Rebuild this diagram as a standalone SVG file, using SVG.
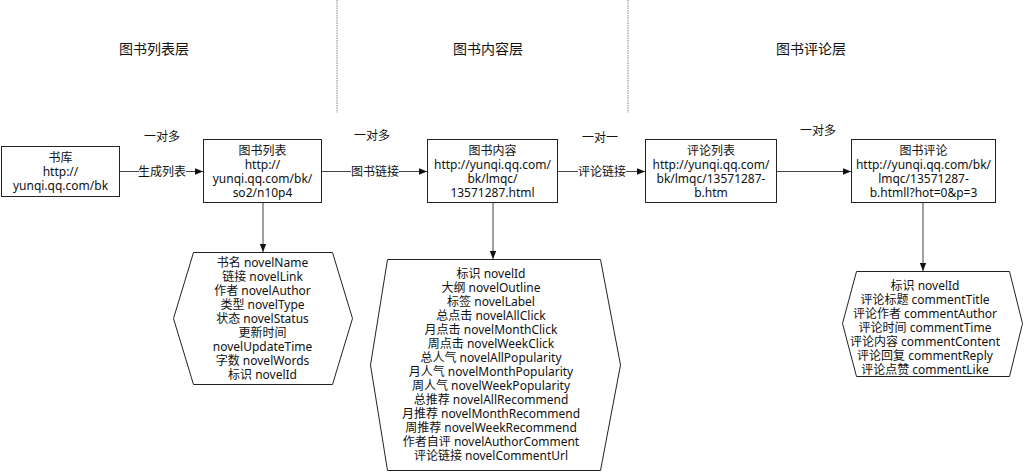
<svg xmlns="http://www.w3.org/2000/svg" width="1024" height="472" viewBox="0 0 1024 472">
<style>
text{font-family:"Noto Sans","Noto Sans CJK SC",sans-serif;font-size:12px;fill:#111;text-anchor:middle;dominant-baseline:central}
.title{font-size:14px}
.box{fill:#fff;stroke:#222;stroke-width:1}
.conn{stroke:#444;stroke-width:1;fill:none}
.lbl{fill:#fff}
.sep{stroke:#888;stroke-width:1;stroke-dasharray:1.5,1}
</style>
<defs>
<marker id="ah" viewBox="0 0 8 8" refX="8" refY="4" markerWidth="8" markerHeight="8" markerUnits="userSpaceOnUse" orient="auto">
<path d="M0,0.8 L8,4 L0,7.2 Z" fill="#111"/>
</marker>
</defs>
<g id="layers">
<line class="sep" x1="337" y1="0" x2="337" y2="113"/>
<line class="sep" x1="628" y1="0" x2="628" y2="113"/>
<text class="title" x="154" y="48">图书列表层</text>
<text class="title" x="488" y="48">图书内容层</text>
<text class="title" x="811" y="48">图书评论层</text>
</g>
<g id="connectors">
<line class="conn" x1="120" y1="171.5" x2="203" y2="171.5" marker-end="url(#ah)"/>
<line class="conn" x1="322" y1="171.5" x2="427" y2="171.5" marker-end="url(#ah)"/>
<line class="conn" x1="558" y1="171.5" x2="645" y2="171.5" marker-end="url(#ah)"/>
<line class="conn" x1="777" y1="171.5" x2="851" y2="171.5" marker-end="url(#ah)"/>
<line class="conn" x1="263" y1="202" x2="263" y2="252" marker-end="url(#ah)"/>
<line class="conn" x1="493" y1="202" x2="493" y2="259" marker-end="url(#ah)"/>
<line class="conn" x1="923" y1="202" x2="923" y2="271" marker-end="url(#ah)"/>
<rect class="lbl" x="139" y="163" width="47" height="17"/>
<text x="162" y="171">生成列表</text>
<text x="162" y="136">一对多</text>
<rect class="lbl" x="351" y="163" width="48" height="17"/>
<text x="375" y="171">图书链接</text>
<text x="372" y="135">一对多</text>
<rect class="lbl" x="578" y="163" width="48" height="17"/>
<text x="602" y="171">评论链接</text>
<text x="600" y="137">一对一</text>
<text x="818" y="130">一对多</text>
</g>
<g id="node-shuku">
<rect class="box" x="1.5" y="146.5" width="118" height="50"/>
<text x="60.5" y="157"><tspan x="60.5">书库</tspan><tspan x="60.5" dy="14">http://</tspan><tspan x="60.5" dy="14">yunqi.qq.com/bk</tspan></text>
</g>
<g id="node-list">
<rect class="box" x="203.5" y="139.5" width="118" height="63"/>
<text x="262.5" y="150"><tspan x="262.5">图书列表</tspan><tspan x="262.5" dy="14">http://</tspan><tspan x="262.5" dy="14">yunqi.qq.com/bk/</tspan><tspan x="262.5" dy="14">so2/n10p4</tspan></text>
</g>
<g id="node-content">
<rect class="box" x="427.5" y="139.5" width="130" height="63"/>
<text x="492.5" y="150"><tspan x="492.5">图书内容</tspan><tspan x="492.5" dy="14">http://yunqi.qq.com/</tspan><tspan x="492.5" dy="14">bk/lmqc/</tspan><tspan x="492.5" dy="14">13571287.html</tspan></text>
</g>
<g id="node-commentlist">
<rect class="box" x="645.5" y="139.5" width="131" height="63"/>
<text x="711" y="150"><tspan x="711">评论列表</tspan><tspan x="711" dy="14">http://yunqi.qq.com/</tspan><tspan x="711" dy="14">bk/lmqc/13571287-</tspan><tspan x="711" dy="14">b.htm</tspan></text>
</g>
<g id="node-comment">
<rect class="box" x="851.5" y="139.5" width="144" height="63"/>
<text x="923.5" y="150"><tspan x="923.5">图书评论</tspan><tspan x="923.5" dy="14">http://yunqi.qq.com/bk/</tspan><tspan x="923.5" dy="14">lmqc/13571287-</tspan><tspan x="923.5" dy="14">b.htmll?hot=0&amp;p=3</tspan></text>
</g>
<g id="node-list-fields">
<polygon class="box" points="193.5,252.5 332.5,252.5 352.5,318.5 332.5,384.5 193.5,384.5 173.5,318.5"/>
<text x="262.5" y="262"><tspan x="262.5">书名 novelName</tspan><tspan x="262.5" dy="14">链接 novelLink</tspan><tspan x="262.5" dy="14">作者 novelAuthor</tspan><tspan x="262.5" dy="14">类型 novelType</tspan><tspan x="262.5" dy="14">状态 novelStatus</tspan><tspan x="262.5" dy="14">更新时间</tspan><tspan x="262.5" dy="14">novelUpdateTime</tspan><tspan x="262.5" dy="14">字数 novelWords</tspan><tspan x="262.5" dy="14">标识 novelId</tspan></text>
</g>
<g id="node-content-fields">
<polygon class="box" points="387.5,259.5 600.5,259.5 620.5,365 600.5,470.5 387.5,470.5 370.5,365"/>
<text x="491" y="273"><tspan x="491">标识 novelId</tspan><tspan x="491" dy="14">大纲 novelOutline</tspan><tspan x="491" dy="14">标签 novelLabel</tspan><tspan x="491" dy="14">总点击 novelAllClick</tspan><tspan x="491" dy="14">月点击 novelMonthClick</tspan><tspan x="491" dy="14">周点击 novelWeekClick</tspan><tspan x="491" dy="14">总人气 novelAllPopularity</tspan><tspan x="491" dy="14">月人气 novelMonthPopularity</tspan><tspan x="491" dy="14">周人气 novelWeekPopularity</tspan><tspan x="491" dy="14">总推荐 novelAllRecommend</tspan><tspan x="491" dy="14">月推荐 novelMonthRecommend</tspan><tspan x="491" dy="14">周推荐 novelWeekRecommend</tspan><tspan x="491" dy="14">作者自评 novelAuthorComment</tspan><tspan x="491" dy="14">评论链接 novelCommentUrl</tspan></text>
</g>
<g id="node-comment-fields">
<polygon class="box" points="856.5,271.5 1009.5,271.5 1022.5,323.5 1009.5,376.5 856.5,376.5 842.5,323.5"/>
<text x="925" y="285"><tspan x="925">标识 novelId</tspan><tspan x="925" dy="14">评论标题 commentTitle</tspan><tspan x="925" dy="14">评论作者 commentAuthor</tspan><tspan x="925" dy="14">评论时间 commentTime</tspan><tspan x="925" dy="14">评论内容 commentContent</tspan><tspan x="925" dy="14">评论回复 commentReply</tspan><tspan x="925" dy="14">评论点赞 commentLike</tspan></text>
</g>
</svg>
